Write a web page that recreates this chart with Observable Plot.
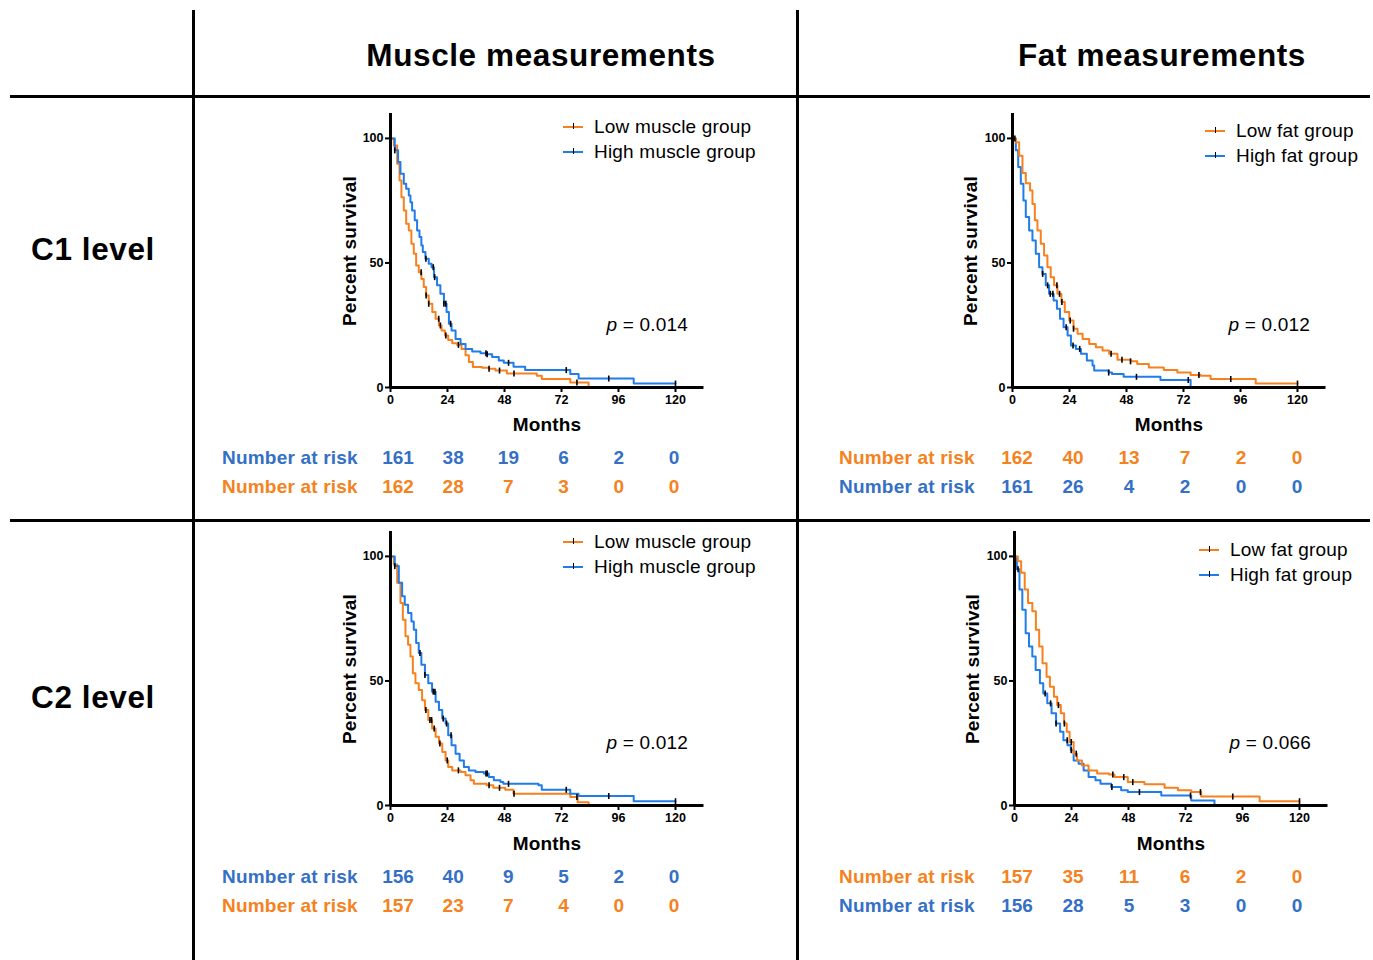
<!DOCTYPE html>
<html>
<head>
<meta charset="utf-8">
<script src="https://cdn.jsdelivr.net/npm/d3@7"></script>
<script src="https://cdn.jsdelivr.net/npm/@observablehq/plot@0.6"></script>
<style>
  html, body { margin: 0; padding: 0; background: #fff; }
  #root { position: relative; width: 1373px; height: 960px; background: #fff; overflow: hidden;
          font-family: "Liberation Sans", Arial, Helvetica, sans-serif; color: #000; }
  .abs { position: absolute; white-space: nowrap; }
  .hline { position: absolute; background: #000; }
</style>
</head>
<body>
<div id="root"></div>
<script>
// ---------------- DATA ----------------
const xTicks = [0, 24, 48, 72, 96, 120];
const yTicks = [0, 50, 100];
const columnTitles = ["Muscle measurements", "Fat measurements"];
const rowTitles = ["C1 level", "C2 level"];
const riskLabel = "Number at risk";

// C1 level, muscle
const c1MuscleHighT = [0,1.8,3.2,4.2,5.6,6.6,7.7,8.4,9.1,10.2,11.2,12.2,13,13.6,14.7,16.1,17.3,18.3,19.6,21,22.5,23.6,24.6,25.7,27.4,29.5,31.6,34.4,37.9,40.7,42.8,45.6,47.7,51.8,56.7,75.7,79.2,102.4,120];
const c1MuscleHighS = [100,95.2,90.5,85.8,81.8,79.8,77.1,74.4,71.1,67.1,63,60.4,57,54.4,51.7,49.7,48.3,44.3,41,37.6,33.6,30.3,25.6,22.9,19.5,17.5,15.5,14.5,13.8,13.3,12.2,10.8,9.9,8.3,7,5.4,3.6,1.6,1.6];
const c1MuscleHighCens = [1.8,14.9,18,18.6,22.5,23.3,25.3,40.2,40.7,49.7,74,91.9,120];
const c1MuscleLowT = [0,1.4,2.8,3.8,4.6,5.6,6.6,7.7,8.8,9.8,10.8,11.9,13,14,15,16.1,17.6,19,20.4,21.5,22.9,24.3,26,28.1,29.9,31.6,33,34.7,38.6,41.4,44.2,49,61.6,63.7,75.7,83.4];
const c1MuscleLowS = [100,97.2,89.8,83.1,76.4,71.1,65.7,63,57.7,53.7,49,46.3,43.6,40.3,36.9,33.6,30.3,27.6,24.9,22.9,20.9,19.1,17.8,17.1,15.5,12.9,10.2,8.2,7.9,7.5,6.8,5.6,4.7,3.4,2,0];
const c1MuscleLowCens = [12.9,15,16.1,20.3,21,23.3,28.6,41.5,45.9,52,78.5];

// C1 level, fat
const c1FatLowT = [0,1.4,2.8,4.2,5.6,7.4,8.4,9.4,10.5,11.9,13.3,14.7,16.1,17.5,18.9,20.6,22,23.9,25.7,27.4,29.5,32.3,35.1,37.9,40.7,44.2,49.7,52.5,57.4,63.7,69.4,75,79.2,83.4,102.4,120];
const c1FatLowS = [100,98.5,93,86.1,82,79.1,73.7,67.1,63,57.7,53,48.3,44.3,41,37.6,34.3,30.3,26.9,23.6,21.6,19.5,17.5,16.2,14.9,13.5,11.1,10.5,9.4,8,7,6,5,4.7,3.4,1.6,1.6];
const c1FatLowCens = [18.7,19.8,20.8,24.3,25.7,41.5,46.1,49.7,78.5,91.9,120];
const c1FatHighT = [0,1.4,2.4,3.5,4.6,5.6,7,8.4,9.8,11.2,12.6,14,15.4,17.3,18.7,20,21.5,23.2,24.6,26.7,28.8,31.3,33.7,34.4,40.5,41.9,46.8,62.3,75];
const c1FatHighS = [100,95.2,88.5,81.8,75.1,68.4,63,59,53.7,48.3,45.6,41,37.6,34.9,31.6,27.6,24.2,20.9,16.9,15.5,13.5,10.8,8.8,6.8,6,5.4,4.3,3,0];
const c1FatHighCens = [1,12.7,14.8,15.9,17,22.6,25.5,28.3,40.5,52.2,74];

// C2 level, muscle
const c2MuscleHighT = [0,1.8,3.5,4.9,6,7.4,8.8,9.8,10.8,11.9,13,14.5,15.9,17.5,19,20.4,21.8,23.2,24.3,25.7,27.4,29.1,30.9,33,35.8,39.3,41.4,43.5,46.3,47.5,62.3,63.7,75.7,79.2,102.4,120];
const c2MuscleHighS = [100,96.1,89.4,84,80.6,77.3,73.9,70.6,65.2,61.2,56.5,52.4,49.1,45.7,41.7,38.3,34.9,32.9,28.2,24.2,20.8,18.1,15.5,14.1,13.4,12.8,11.4,10.1,9.4,8.7,8.1,6.3,4.7,3.8,1.7,1.7];
const c2MuscleHighCens = [1.8,12.4,14.5,18,18.7,22.2,23.6,25.5,40.2,40.7,49.7,74,91.9,120];
const c2MuscleLowT = [0,1.4,2.8,4.2,5.2,6.3,7.4,8.4,9.4,10.5,11.9,13.3,14.5,15.9,17.5,19,20.4,21.8,23.2,24.3,26,29.5,31.6,33.7,35.1,40.5,43.3,48.3,51.8,75.7,78.8,83.4];
const c2MuscleLowS = [100,96.8,89.4,81.3,74.6,67.9,64.5,59.8,53.1,49.1,46.4,42.3,38.3,34.3,30.9,27.6,24.9,21.5,18.1,15.5,14.1,13.4,12.1,10.1,8.7,8.1,7.1,6.3,4.7,3.4,1.3,0];
const c2MuscleLowCens = [14.9,16.6,17.3,18.4,20.8,23.9,28.6,41.5,45.9,52,78.5];

// C2 level, fat
const c2FatLowT = [0,1.4,2.8,4.3,5.7,7.5,9,10.4,11.8,13.5,14.9,16.6,18,19.5,20.9,22,23.2,24.9,26.3,28.4,31.2,34.8,39.8,42.1,47.7,54.7,63.2,68.8,74.4,78.6,103.2,120];
const c2FatLowS = [100,98.1,93.4,86.7,81.3,78,70.6,63.8,57.1,51.7,47.7,43.7,40.3,37,32.9,29.6,25.5,20.8,18.1,16.1,14.1,12.8,12.4,11.4,9.4,8.5,7.1,6.1,5.4,3.6,1.7,1.7];
const c2FatLowCens = [18.5,21,23.9,26,41.4,46,49.8,78.3,91.9,120];
const c2FatHighT = [0,1,2.1,3.3,4.7,6.1,7.5,8.9,10.7,12.1,13.8,15.6,17.5,19.2,20.6,22.3,23.7,24.9,27,29.1,31.2,34.1,36.2,40.7,44.9,47.7,61.8,74.4,84.2];
const c2FatHighS = [100,94.8,86.7,78.6,69.2,63.8,59.8,54.4,49.1,45,41,37,32.9,29.6,26.2,24.2,22.2,18.1,16.8,14.1,11.4,10.1,8.7,7.4,6.1,5.4,4,2,0];
const c2FatHighCens = [1.5,12.9,15.2,17.5,22.2,23.9,41,52.6,74.1];

// Number at risk
const c1MuscleRiskHigh = [161, 38, 19, 6, 2, 0];
const c1MuscleRiskLow  = [162, 28, 7, 3, 0, 0];
const c1FatRiskLow     = [162, 40, 13, 7, 2, 0];
const c1FatRiskHigh    = [161, 26, 4, 2, 0, 0];
const c2MuscleRiskHigh = [156, 40, 9, 5, 2, 0];
const c2MuscleRiskLow  = [157, 23, 7, 4, 0, 0];
const c2FatRiskLow     = [157, 35, 11, 6, 2, 0];
const c2FatRiskHigh    = [156, 28, 5, 3, 0, 0];

const pValues = ["0.014", "0.012", "0.012", "0.066"];

// ---------------- STYLE ----------------
const FONT = '"Liberation Sans", Arial, Helvetica, sans-serif';
const ORANGE = "#f7811f";
const BLUE = "#1f7ce9";
const TXT_ORANGE = "#f58220";
const TXT_BLUE = "#3470c6";

const root = document.getElementById("root");

function el(html, css) {
  const d = document.createElement("div");
  d.className = "abs";
  d.innerHTML = html;
  Object.assign(d.style, css);
  root.appendChild(d);
  return d;
}
function line(css) {
  const d = document.createElement("div");
  d.className = "hline";
  Object.assign(d.style, css);
  root.appendChild(d);
}

// table grid
line({left: "191.5px", top: "10px", width: "3px", height: "950px"});
line({left: "796px", top: "10px", width: "3px", height: "950px"});
line({left: "10px", top: "94.5px", width: "1360px", height: "3.5px"});
line({left: "10px", top: "518.5px", width: "1360px", height: "3.5px"});

// headers
const headFont = `bold 31.5px ${FONT}`;
el(columnTitles[0], {left: "241px", width: "600px", top: "37px", textAlign: "center", font: headFont, lineHeight: "36px", letterSpacing: "0.6px"});
el(columnTitles[1], {left: "862px", width: "600px", top: "37px", textAlign: "center", font: headFont, lineHeight: "36px", letterSpacing: "0.6px"});
el(rowTitles[0], {left: "0px", width: "186px", top: "231px", textAlign: "center", font: headFont, lineHeight: "36px", letterSpacing: "0.6px"});
el(rowTitles[1], {left: "0px", width: "186px", top: "679px", textAlign: "center", font: headFont, lineHeight: "36px", letterSpacing: "0.6px"});

// helpers
const steps = (T, S) => T.map((t, i) => ({t, s: S[i]}));
function survAt(T, S, t) {
  let s = S[0];
  for (let i = 0; i < T.length; i++) if (T[i] <= t) s = S[i];
  return s;
}
const censorSymbol = {
  draw(ctx, size) {
    const h = Math.sqrt(size / Math.PI);
    ctx.moveTo(0, -h);
    ctx.lineTo(0, h);
  }
};

const TXT = `19px ${FONT}`;
const TXTB = `bold 19px ${FONT}`;

function panel({left, top, curves, legend, p, pRight, pY, yLabelX, yLabelY, xLabelX, xLabelY, risk, riskLabelX, riskX0, riskDX, riskY0}) {
  const W = 390, H = 340;
  const chart = Plot.plot({
    width: W, height: H,
    marginLeft: 60, marginTop: 8, marginBottom: 58, marginRight: 16.5,
    x: {domain: [0, 132]},
    y: {domain: [0, 110]},
    style: {fontFamily: FONT, overflow: "visible", background: "transparent", color: "#000"},
    marks: [
      ...curves.map(c => Plot.line(steps(c.T, c.S), {x: "t", y: "s", curve: "step-after", stroke: c.color, strokeWidth: 2})),
      ...curves.map(c => Plot.dot(c.C.map(t => ({t, s: survAt(c.T, c.S, t)})),
        {x: "t", y: "s", symbol: censorSymbol, r: 3, stroke: "#000", strokeWidth: 1.6, fill: "none"})),
      Plot.ruleX([0], {stroke: "#000", strokeWidth: 3}),
      Plot.ruleY([0], {stroke: "#000", strokeWidth: 3}),
      Plot.axisX({ticks: xTicks, tickSize: 5, tickPadding: 3, fontSize: 12.5, fontWeight: "bold", label: null, strokeWidth: 2, tickFormat: d => String(d)}),
      Plot.axisY({ticks: yTicks, tickSize: 5, tickPadding: 2, fontSize: 12.5, fontWeight: "bold", label: null, strokeWidth: 2, tickFormat: d => String(d)})
    ]
  });
  chart.style.position = "absolute";
  chart.style.left = left + "px";
  chart.style.top = top + "px";
  root.appendChild(chart);

  // axis labels
  el("Percent survival", {left: yLabelX + "px", top: yLabelY + "px", transform: "translate(-50%,-50%) rotate(-90deg)", font: TXTB, letterSpacing: "0.2px"});
  el("Months", {left: xLabelX + "px", top: xLabelY + "px", transform: "translate(-50%,-50%)", font: TXTB, letterSpacing: "0.2px"});

  // legend
  legend.items.forEach((it, i) => {
    const y = legend.y + 25 * i;
    const sw = document.createElement("div");
    sw.className = "hline";
    Object.assign(sw.style, {left: legend.x + "px", top: (y - 1) + "px", width: "20px", height: "2px", background: it.color});
    root.appendChild(sw);
    const tk = document.createElement("div");
    tk.className = "hline";
    Object.assign(tk.style, {left: (legend.x + 9.5) + "px", top: (y - 4) + "px", width: "1.5px", height: "6px", background: "#000"});
    root.appendChild(tk);
    el(it.label, {left: legend.textX + "px", top: (y - 11) + "px", font: TXT, lineHeight: "22px", letterSpacing: "0.2px"});
  });

  // p value
  el(`<i>p</i> = ${p}`, {left: (pRight - 200) + "px", width: "200px", textAlign: "right", top: (pY - 11) + "px", font: TXT, lineHeight: "22px", letterSpacing: "0.2px"});

  // number at risk rows
  risk.forEach((row, r) => {
    const y = riskY0 + 29 * r;
    el(riskLabel, {left: riskLabelX + "px", top: (y - 11) + "px", font: TXTB, lineHeight: "22px", color: row.color, letterSpacing: "0.2px"});
    row.values.forEach((v, i) => {
      el(String(v), {left: (riskX0 + riskDX * i - 30) + "px", width: "60px", textAlign: "center", top: (y - 11) + "px", font: TXTB, lineHeight: "22px", color: row.color});
    });
  });
}

// Top-left: C1 muscle
panel({
  left: 330, top: 105,
  curves: [
    {T: c1MuscleLowT, S: c1MuscleLowS, C: c1MuscleLowCens, color: ORANGE},
    {T: c1MuscleHighT, S: c1MuscleHighS, C: c1MuscleHighCens, color: BLUE}
  ],
  legend: {x: 563, textX: 594, y: 127, items: [{label: "Low muscle group", color: ORANGE}, {label: "High muscle group", color: BLUE}]},
  p: pValues[0], pRight: 688, pY: 325,
  yLabelX: 350, yLabelY: 251, xLabelX: 547, xLabelY: 425,
  risk: [{values: c1MuscleRiskHigh, color: TXT_BLUE}, {values: c1MuscleRiskLow, color: TXT_ORANGE}],
  riskLabelX: 222, riskX0: 398, riskDX: 55.2, riskY0: 458
});

// Top-right: C1 fat
panel({
  left: 952, top: 105,
  curves: [
    {T: c1FatHighT, S: c1FatHighS, C: c1FatHighCens, color: BLUE},
    {T: c1FatLowT, S: c1FatLowS, C: c1FatLowCens, color: ORANGE}
  ],
  legend: {x: 1205, textX: 1236, y: 131, items: [{label: "Low fat group", color: ORANGE}, {label: "High fat group", color: BLUE}]},
  p: pValues[1], pRight: 1310, pY: 325,
  yLabelX: 971, yLabelY: 251, xLabelX: 1169, xLabelY: 425,
  risk: [{values: c1FatRiskLow, color: TXT_ORANGE}, {values: c1FatRiskHigh, color: TXT_BLUE}],
  riskLabelX: 839, riskX0: 1017, riskDX: 56, riskY0: 458
});

// Bottom-left: C2 muscle
panel({
  left: 330, top: 523,
  curves: [
    {T: c2MuscleLowT, S: c2MuscleLowS, C: c2MuscleLowCens, color: ORANGE},
    {T: c2MuscleHighT, S: c2MuscleHighS, C: c2MuscleHighCens, color: BLUE}
  ],
  legend: {x: 563, textX: 594, y: 542, items: [{label: "Low muscle group", color: ORANGE}, {label: "High muscle group", color: BLUE}]},
  p: pValues[2], pRight: 688, pY: 743,
  yLabelX: 350, yLabelY: 669, xLabelX: 547, xLabelY: 844,
  risk: [{values: c2MuscleRiskHigh, color: TXT_BLUE}, {values: c2MuscleRiskLow, color: TXT_ORANGE}],
  riskLabelX: 222, riskX0: 398, riskDX: 55.2, riskY0: 877
});

// Bottom-right: C2 fat
panel({
  left: 954, top: 523,
  curves: [
    {T: c2FatHighT, S: c2FatHighS, C: c2FatHighCens, color: BLUE},
    {T: c2FatLowT, S: c2FatLowS, C: c2FatLowCens, color: ORANGE}
  ],
  legend: {x: 1199, textX: 1230, y: 550, items: [{label: "Low fat group", color: ORANGE}, {label: "High fat group", color: BLUE}]},
  p: pValues[3], pRight: 1311, pY: 743,
  yLabelX: 973, yLabelY: 669, xLabelX: 1171, xLabelY: 844,
  risk: [{values: c2FatRiskLow, color: TXT_ORANGE}, {values: c2FatRiskHigh, color: TXT_BLUE}],
  riskLabelX: 839, riskX0: 1017, riskDX: 56, riskY0: 877
});
</script>
</body>
</html>
